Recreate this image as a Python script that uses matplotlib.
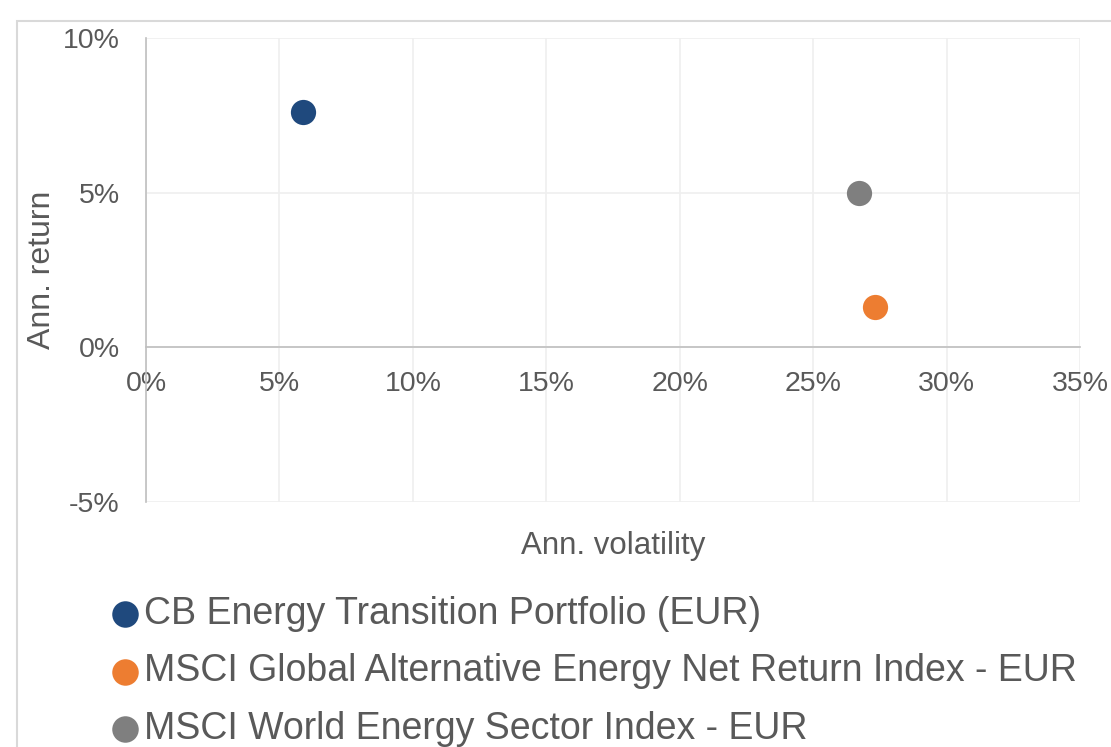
import matplotlib.pyplot as plt
from matplotlib.patches import Rectangle
from matplotlib.ticker import FuncFormatter

plt.rcParams['font.family'] = ['Liberation Sans', 'DejaVu Sans']

# Annualised volatility / return (in %)
names = ["CB Energy Transition Portfolio (EUR)",
         "MSCI Global Alternative Energy Net Return Index - EUR",
         "MSCI World Energy Sector Index - EUR"]
volatility = [5.9, 27.3, 26.7]
returns = [7.6, 1.3, 5.0]
colors = ["#1F497D", "#ED7D31", "#7F7F7F"]

x_ticks = [0, 5, 10, 15, 20, 25, 30, 35]
y_ticks = [-5, 0, 5, 10]

text_color = "#595959"

fig = plt.figure(figsize=(11.11, 7.47), dpi=100)
ax = fig.add_axes([146 / 1111, 1 - 502 / 747, 934 / 1111, 464 / 747])

for n, x, y, c in zip(names, volatility, returns, colors):
    ax.scatter(x, y, s=330, color=c, label=n, zorder=3, linewidths=0)

ax.set_xlim(0, 35)
ax.set_ylim(-5, 10)
ax.set_xticks(x_ticks)
ax.set_yticks(y_ticks)
pct = FuncFormatter(lambda v, _: f"{v:.0f}%")
ax.xaxis.set_major_formatter(pct)
ax.yaxis.set_major_formatter(pct)

ax.grid(True, color="#EFEFEF", linewidth=1.2, zorder=0)
ax.set_axisbelow(True)

ax.spines['top'].set_visible(False)
ax.spines['right'].set_visible(False)
ax.spines['bottom'].set_position(('data', 0))
ax.spines['bottom'].set_color("#BFBFBF")
ax.spines['left'].set_color("#BFBFBF")
ax.spines['bottom'].set_linewidth(1.2)
ax.spines['left'].set_linewidth(1.2)

ax.tick_params(axis='both', length=0, labelsize=20.5, labelcolor=text_color)
ax.tick_params(axis='x', pad=17)
ax.tick_params(axis='y', pad=19)

ax.set_xlabel("Ann. volatility", fontsize=22.5, color=text_color, va='center')
ax.xaxis.set_label_coords(0.5, -(546 - 502) / 464)
ax.set_ylabel("Ann. return", fontsize=23, color=text_color, va='center')
ax.yaxis.set_label_coords(-(146 - 42) / 934, 0.5)

leg = ax.legend(loc='upper left', bbox_to_anchor=(106 / 1111, 1 - 596 / 747),
                bbox_transform=fig.transFigure, frameon=False, fontsize=27,
                handletextpad=0.0, handlelength=1.0, labelspacing=0.57,
                borderpad=0, borderaxespad=0, markerscale=1.05)
for t in leg.get_texts():
    t.set_color(text_color)

# outer chart border (cropped at right / bottom)
fig.patches.append(Rectangle((17 / 1111, -0.1), 1.2, 1.1 - 21 / 747,
                             transform=fig.transFigure, fill=False,
                             edgecolor="#D9D9D9", linewidth=1.5))

fig.savefig("out.png", dpi=100)
